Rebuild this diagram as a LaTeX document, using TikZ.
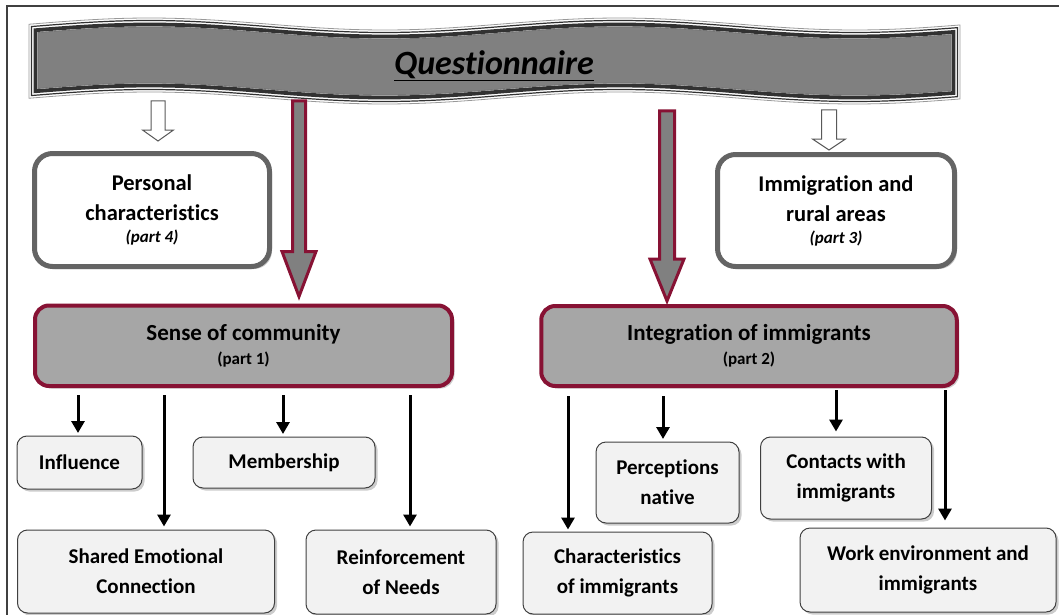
\documentclass[tikz,border=0pt]{standalone}
\usepackage{fontspec}
\setmainfont{Carlito}[Ligatures=NoCommon]
\usetikzlibrary{arrows.meta,calc,shadows}
\definecolor{wine}{RGB}{135,18,52}
\definecolor{bannergray}{RGB}{128,128,128}
\definecolor{boxgray}{RGB}{166,166,166}
\definecolor{rimgray}{RGB}{100,100,100}
\definecolor{paper}{RGB}{242,242,242}
\definecolor{band}{RGB}{50,50,50}
\newcommand{\bannerpath}[4]{plot[domain=#1:#2,samples=100] (\x,{#3-6*sin(((\x-32)/470)*360)}) -- plot[domain=#2:#1,samples=100] (\x,{#4-6*sin(((\x-32)/470)*360)}) -- cycle}
\newcommand{\blockarr}[6]{%
  \draw[#1] ($(#2)+(-#4,0)$) -- ($(#3)+(-#4,-#6)$) -- ($(#3)+(-#5,-#6)$) -- (#3) -- ($(#3)+(#5,-#6)$) -- ($(#3)+(#4,-#6)$) -- ($(#2)+(#4,0)$) -- cycle;}
\tikzset{
  softshadow/.style={drop shadow={shadow xshift=2.5pt, shadow yshift=-2.5pt, fill=black, opacity=0.2}},
  partbox/.style={draw=rimgray, line width=5pt, fill=white, rounded corners=18pt, softshadow,
    font=\fontsize{22.5}{30}\selectfont\bfseries, align=center, inner sep=0pt},
  mainbox/.style={draw=wine, line width=4pt, fill=boxgray, rounded corners=14pt, softshadow,
    font=\fontsize{23}{30}\selectfont\bfseries, align=center, inner sep=0pt},
  itembox/.style={draw=black!75, line width=1pt, fill=paper, rounded corners=10pt, softshadow,
    font=\fontsize{21}{30}\selectfont\bfseries, align=center, inner sep=0pt},
  redarrow/.style={draw=wine, line width=3pt, fill=bannergray, line join=miter},
  whitearrow/.style={draw=black!65, line width=1pt, fill=white, line join=miter},
  blkarrow/.style={draw=black, line width=3pt, -{Triangle[length=12pt,width=13pt]}},
}
\begin{document}
\begin{tikzpicture}[x=1pt,y=-1pt]
\useasboundingbox (0,0) rectangle (1059,615);
% frame
\draw[black!75, line width=1.5pt] (7,615) -- (7,6) -- (1059,6);
% banner
\path[fill=white, draw=black!40, line width=0.8pt] \bannerpath{29}{960}{24}{98};
\path[draw=band, line width=1.2pt] \bannerpath{31.5}{957.5}{26.5}{95.5};
\path[draw=band, line width=3.8pt] \bannerpath{35.5}{953.5}{30.5}{91.5};
\path[fill=bannergray, draw=black!55, line width=0.8pt] \bannerpath{38}{951}{33}{89};
\node[anchor=base, inner sep=0pt, font=\fontsize{34}{40}\selectfont\bfseries\itshape] (title) at (494,75) {\underline{Questionnaire}};

% part boxes
\node[partbox, minimum width=235pt, minimum height=113pt] (personal) at (152,210)
  {Personal\\characteristics\\[-8pt]{\fontsize{17}{20}\selectfont\itshape (part 4)}};
\node[partbox, minimum width=237pt, minimum height=112pt] (rural) at (836,210.5)
  {Immigration and\\rural areas\\[-8pt]{\fontsize{17}{20}\selectfont\itshape (part 3)}};
\node[mainbox, minimum width=417pt, minimum height=80.5pt] (sense) at (243.5,345.75)
  {Sense of community\\[-6pt]{\fontsize{17}{20}\selectfont (part 1)}};
\node[mainbox, minimum width=415.5pt, minimum height=80pt] (integ) at (749,346)
  {Integration of immigrants\\[-6pt]{\fontsize{17}{20}\selectfont (part 2)}};

% item boxes
\node[itembox, minimum width=125pt, minimum height=53pt] (influence) at (79.5,462.5) {Influence};
\node[itembox, minimum width=182pt, minimum height=51pt] (member) at (284,462.5) {Membership};
\node[itembox, minimum width=257pt, minimum height=83pt] (shared) at (146,571.5) {Shared Emotional\\Connection};
\node[itembox, minimum width=190pt, minimum height=84pt] (reinf) at (401,572) {Reinforcement\\of Needs};
\node[itembox, minimum width=143pt, minimum height=81pt] (percep) at (667.5,482.5) {Perceptions\\native};
\node[itembox, minimum width=171pt, minimum height=82pt] (contacts) at (846,478) {Contacts with\\immigrants};
\node[itembox, minimum width=189pt, minimum height=82pt] (charac) at (617.5,573) {Characteristics\\of immigrants};
\node[itembox, minimum width=256pt, minimum height=84pt] (work) at (928,570) {Work environment and\\immigrants};

% block arrows from the banner
\coordinate (w1a) at (158,101);
\coordinate (w1b) at ($(personal.north -| w1a)+(0,-10)$);
\coordinate (r1a) at (299,101);
\coordinate (r1b) at ($(sense.north -| r1a)+(0,-7)$);
\coordinate (r2a) at (667,111);
\coordinate (r2b) at ($(integ.north -| r2a)+(0,-3)$);
\coordinate (w2a) at (829,110);
\coordinate (w2b) at ($(rural.north -| w2a)+(0,-2)$);
\blockarr{whitearrow}{w1a}{w1b}{7}{15.5}{11}
\blockarr{whitearrow}{w2a}{w2b}{7.5}{16.5}{11}
\blockarr{redarrow}{r1a}{r1b}{6.5}{17}{45}
\blockarr{redarrow}{r2a}{r2b}{7.5}{17}{42}

% black arrows
\coordinate (b1) at (78,0);
\coordinate (b2) at (164,0);
\coordinate (b3) at (283,0);
\coordinate (b4) at (410,0);
\coordinate (b5) at (568,0);
\coordinate (b6) at (663,0);
\coordinate (b7) at (836,0);
\coordinate (b8) at (945,0);
\draw[blkarrow, shorten <=7pt, shorten >=2.5pt] (sense.south -| b1) -- (influence.north -| b1);
\draw[blkarrow, shorten <=7pt, shorten >=3pt] (sense.south -| b2) -- (shared.north -| b2);
\draw[blkarrow, shorten <=7pt, shorten >=2.5pt] (sense.south -| b3) -- (member.north -| b3);
\draw[blkarrow, shorten <=7pt, shorten >=3pt] (sense.south -| b4) -- (reinf.north -| b4);
\draw[blkarrow, shorten <=8pt, shorten >=2pt] (integ.south -| b5) -- (charac.north -| b5);
\draw[blkarrow, shorten <=8pt, shorten >=2.5pt] (integ.south -| b6) -- (percep.north -| b6);
\draw[blkarrow, shorten <=2pt, shorten >=5pt] (integ.south -| b7) -- (contacts.north -| b7);
\draw[blkarrow, shorten <=2pt, shorten >=7pt] (integ.south -| b8) -- (work.north -| b8);
\end{tikzpicture}
\end{document}
